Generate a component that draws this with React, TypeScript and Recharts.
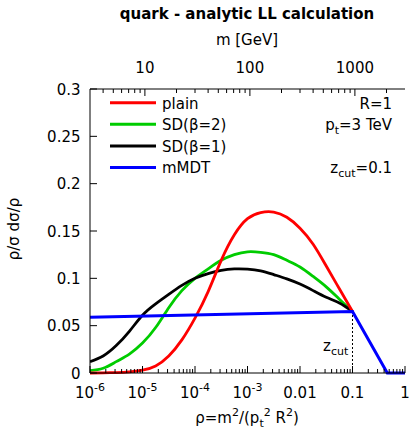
import { LineChart, Line, XAxis, YAxis, ReferenceLine } from 'recharts';

// rho = m^2/(pt^2 R^2), log spaced
const rho = [1e-6, 1.78e-6, 3.16e-6, 5.62e-6, 1e-5, 1.78e-5, 3.16e-5, 5.62e-5, 1e-4, 1.78e-4, 3.16e-4, 5.62e-4, 1e-3, 1.78e-3, 3.16e-3, 5.62e-3, 0.01, 0.0178, 0.0316, 0.0562, 0.1, 0.46, 1];
const plain = [0, 0.0002, 0.0005, 0.0012, 0.003, 0.0075, 0.018, 0.035, 0.058, 0.086, 0.119, 0.146, 0.163, 0.1695, 0.17, 0.1645, 0.153, 0.136, 0.113, 0.089, 0.065, null, null];
const sdBeta2 = [0.0025, 0.005, 0.012, 0.02, 0.0316, 0.048, 0.069, 0.087, 0.1, 0.11, 0.119, 0.125, 0.128, 0.1275, 0.125, 0.119, 0.112, 0.102, 0.091, 0.078, 0.065, null, null];
const sdBeta1 = [0.012, 0.018, 0.029, 0.044, 0.061, 0.073, 0.083, 0.0925, 0.1, 0.105, 0.1085, 0.11, 0.1098, 0.108, 0.104, 0.0995, 0.094, 0.087, 0.08, 0.074, 0.065, null, null];
const mMDT = [0.059, null, null, null, null, null, null, null, null, null, null, null, null, null, null, null, null, null, null, null, 0.065, 0, 0];

const yTicks = [0, 0.05, 0.1, 0.15, 0.2, 0.25, 0.3];
const rhoTicks = [1, 2, 3, 4, 5, 6, 7, 8, 9].flatMap((k) => [-6, -5, -4, -3, -2, -1].map((e) => k * Math.pow(10, e))).concat([1]);
const mTicks = [4, 5, 6, 7, 8, 9, 10, 20, 30, 40, 50, 60, 70, 80, 90, 100, 200, 300, 400, 500, 600, 700, 800, 900, 1000, 2000];
const ptGeV = 3000;
const jetR = 1;
const zcut = 0.1;
const zcutHeight = 0.065;

const data = rho.map((r, i) => ({
  rho: r,
  plain: plain[i],
  sd2: sdBeta2[i],
  sd1: sdBeta1[i],
  mmdt: mMDT[i],
}));

const FONT = '"DejaVu Sans", sans-serif';

const isDecade = (v: number) => Math.abs(Math.log10(v) - Math.round(Math.log10(v))) < 1e-6;

const BottomTick = ({ x, y, payload }: any) => {
  const v = payload.value;
  const major = isDecade(v);
  const e = Math.round(Math.log10(v));
  let label: any = null;
  if (major) {
    label =
      e >= -2 ? (
        <text x={x} y={y + 25} textAnchor="middle" fontSize={15} fontFamily={FONT} fill="#000">
          {e === 0 ? '1' : e === -1 ? '0.1' : '0.01'}
        </text>
      ) : (
        <text x={x} y={y + 25} textAnchor="middle" fontSize={15} fontFamily={FONT} fill="#000">
          10<tspan dy={-7} fontSize={11}>{String(e)}</tspan>
        </text>
      );
  }
  return (
    <g>
      <line x1={x} x2={x} y1={y} y2={y - (major ? 7 : 4)} stroke="#000" />
      {label}
    </g>
  );
};

const TopTick = ({ x, y, payload }: any) => {
  const m = Math.sqrt(payload.value) * ptGeV * jetR;
  const major = isDecade(m);
  return (
    <g>
      <line x1={x} x2={x} y1={y} y2={y + (major ? 7 : 4)} stroke="#000" />
      {major && (
        <text x={x} y={y - 16} textAnchor="middle" fontSize={15} fontFamily={FONT} fill="#000">
          {Math.round(m)}
        </text>
      )}
    </g>
  );
};

const LeftTick = ({ x, y, payload }: any) => (
  <g>
    <line x1={x} x2={x + 7} y1={y} y2={y} stroke="#000" />
    <text x={x - 9.5} y={y + 5.5} textAnchor="end" fontSize={15} fontFamily={FONT} fill="#000">
      {payload.value}
    </text>
  </g>
);

const RightTick = ({ x, y }: any) => <line x1={x} x2={x - 7} y1={y} y2={y} stroke="#000" />;

const legendItems = [
  { name: 'plain', color: '#ff0000' },
  { name: 'SD(β=2)', color: '#00cc00' },
  { name: 'SD(β=1)', color: '#000000' },
  { name: 'mMDT', color: '#0000ff' },
];

export default function App() {
  return (
    <div style={{ position: 'absolute', left: 0, top: 0, width: 409, height: 429, background: '#fff' }}>
      <LineChart width={409} height={429} data={data} margin={{ top: 69, right: 4, bottom: 26, left: 50 }}>
        <XAxis
          xAxisId="bottom"
          dataKey="rho"
          type="number"
          scale="log"
          domain={[1e-6, 1]}
          allowDataOverflow
          ticks={rhoTicks}
          interval={0}
          tick={<BottomTick />}
          tickLine={false}
          tickSize={0}
          tickMargin={0}
          height={30}
          axisLine={{ stroke: '#000' }}
        />
        <XAxis
          xAxisId="top"
          orientation="top"
          dataKey="rho"
          type="number"
          scale="log"
          domain={[1e-6, 1]}
          allowDataOverflow
          ticks={mTicks.map((m) => Math.pow(m / (ptGeV * jetR), 2))}
          interval={0}
          tick={<TopTick />}
          tickLine={false}
          tickSize={0}
          tickMargin={0}
          height={20}
          axisLine={{ stroke: '#000' }}
        />
        <YAxis
          yAxisId="left"
          type="number"
          domain={[0, 0.3]}
          ticks={yTicks}
          interval={0}
          tick={<LeftTick />}
          tickLine={false}
          tickSize={0}
          tickMargin={0}
          width={40}
          axisLine={{ stroke: '#000' }}
        />
        <YAxis
          yAxisId="right"
          orientation="right"
          type="number"
          domain={[0, 0.3]}
          ticks={yTicks}
          interval={0}
          tick={<RightTick />}
          tickLine={false}
          tickSize={0}
          tickMargin={0}
          width={0}
          axisLine={{ stroke: '#000' }}
        />
        <ReferenceLine
          xAxisId="bottom"
          yAxisId="left"
          segment={[{ x: zcut, y: 0 }, { x: zcut, y: zcutHeight }]}
          stroke="#000"
          strokeDasharray="2 2"
        />
        <Line xAxisId="bottom" yAxisId="left" type="natural" dataKey="sd2" stroke="#00cc00" strokeWidth={2.8} dot={false} isAnimationActive={false} />
        <Line xAxisId="bottom" yAxisId="left" type="natural" dataKey="sd1" stroke="#000000" strokeWidth={2.8} dot={false} isAnimationActive={false} />
        <Line xAxisId="bottom" yAxisId="left" type="natural" dataKey="plain" stroke="#ff0000" strokeWidth={2.8} dot={false} isAnimationActive={false} />
        <Line xAxisId="bottom" yAxisId="left" type="linear" dataKey="mmdt" stroke="#0000ff" strokeWidth={3} dot={false} connectNulls isAnimationActive={false} />
      </LineChart>
      <svg width={409} height={429} style={{ position: 'absolute', left: 0, top: 0, pointerEvents: 'none' }} fontFamily={FONT}>
        <text x={247} y={19} textAnchor="middle" fontSize={15} fontWeight="bold">quark - analytic LL calculation</text>
        <text x={247} y={45} textAnchor="middle" fontSize={15}>m [GeV]</text>
        <text x={247} y={423} textAnchor="middle" fontSize={15}>
          ρ=m<tspan dy={-7} fontSize={11}>2</tspan>
          <tspan dy={7}>/(p</tspan>
          <tspan dy={4} fontSize={11}>t</tspan>
          <tspan dy={-11} fontSize={11}>2</tspan>
          <tspan dy={7}> R</tspan>
          <tspan dy={-7} fontSize={11}>2</tspan>
          <tspan dy={7}>)</tspan>
        </text>
        <text x={18.5} y={229} textAnchor="middle" fontSize={15} transform="rotate(-90 18.5 229)">ρ/σ dσ/ρ</text>
        {legendItems.map((it, i) => (
          <g key={it.name}>
            <line x1={110} x2={156} y1={102.7 + i * 21.6} y2={102.7 + i * 21.6} stroke={it.color} strokeWidth={3} />
            <text x={162} y={108.5 + i * 21.6} fontSize={15}>{it.name}</text>
          </g>
        ))}
        <text x={392} y={108.5} textAnchor="end" fontSize={15}>R=1</text>
        <text x={392} y={130} textAnchor="end" fontSize={15}>
          p<tspan dy={4} fontSize={11}>t</tspan>
          <tspan dy={-4}>=3 TeV</tspan>
        </text>
        <text x={392} y={173.3} textAnchor="end" fontSize={15}>
          z<tspan dy={4} fontSize={11}>cut</tspan>
          <tspan dy={-4}>=0.1</tspan>
        </text>
        <text x={323} y={351} fontSize={15}>
          z<tspan dy={4} fontSize={11}>cut</tspan>
        </text>
      </svg>
    </div>
  );
}
